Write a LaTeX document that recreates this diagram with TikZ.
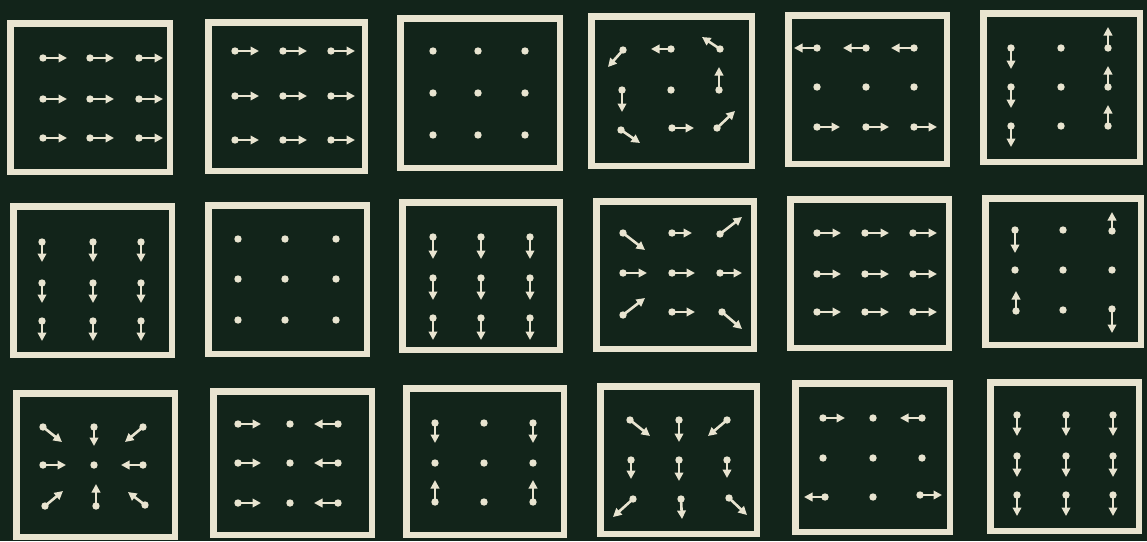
\documentclass[tikz,border=0pt]{standalone}
\usetikzlibrary{arrows.meta}
\definecolor{bgc}{RGB}{18,36,26}
\definecolor{ink}{RGB}{232,228,208}
\tikzset{
  frame/.style={draw=ink, line width=6.5pt},
  shaft/.style={draw=ink, line width=2.6pt, -{Triangle[width=8.5pt,length=8.5pt]}},
}
\newcommand\arr[2]{\fill[ink] #1 circle (3.7); \draw[shaft] #1 -- #2;}
\newcommand\pt[1]{\fill[ink] #1 circle (3.7);}
\newcommand\panel[4]{\draw[frame] ({#1+3.25},{#2+3.25}) rectangle ({#3-3.25},{#4-3.25});}
\begin{document}
\begin{tikzpicture}[x=1pt,y=-1pt]
\fill[bgc] (0,0) rectangle (1147,541);
\useasboundingbox (0,0) rectangle (1147,541);
% ---------- row 1 ----------
\panel{7}{20}{173}{175}
\foreach \y in {58,99,138}{\foreach \x in {43,90,139}{\arr{(\x,\y)}{(\x+24,\y)}}}
\panel{205}{19}{368}{174}
\foreach \y in {51,96,140}{\foreach \x in {235,283,331}{\arr{(\x,\y)}{(\x+24,\y)}}}
\panel{397}{15}{563}{171}
\foreach \y in {51,93,135}{\foreach \x in {433,478,525}{\pt{(\x,\y)}}}
\panel{588}{13}{755}{169}
\arr{(623,50)}{(608,67)}
\arr{(671,49)}{(651,49)}
\arr{(720,49)}{(702,37)}
\arr{(622,90)}{(622,112)}
\pt{(671,90)}
\arr{(719,90)}{(719,67)}
\arr{(621,130)}{(640,143)}
\arr{(672,128)}{(694,128)}
\arr{(717,128)}{(735,111)}
\panel{785}{12}{950}{167}
\foreach \x in {817,866,914}{\arr{(\x,48)}{(\x-23,48)} \pt{(\x,87)} \arr{(\x,127)}{(\x+23,127)}}
\panel{980}{10}{1143}{165}
\foreach \y in {48,87,126}{\arr{(1011,\y)}{(1011,\y+21)} \pt{(1061,\y)} \arr{(1108,\y)}{(1108,\y-21)}}
% ---------- row 2 ----------
\panel{10}{203}{175}{358}
\foreach \y in {242,283,321}{\foreach \x in {42,93,141}{\arr{(\x,\y)}{(\x,\y+20)}}}
\panel{205}{202}{370}{357}
\foreach \y in {239,279,320}{\foreach \x in {238,285,336}{\pt{(\x,\y)}}}
\panel{399}{199}{563}{353}
\foreach \y in {237,278,318}{\foreach \x in {433,481,530}{\arr{(\x,\y)}{(\x,\y+22)}}}
\panel{593}{198}{757}{352}
\arr{(623,233)}{(645,250)}
\arr{(672,233)}{(692,233)}
\arr{(720,234)}{(742,217)}
\arr{(623,273)}{(647,273)}
\arr{(672,273)}{(695,273)}
\arr{(720,273)}{(742,273)}
\arr{(623,315)}{(645,298)}
\arr{(672,312)}{(695,312)}
\arr{(722,312)}{(742,329)}
\panel{787}{196}{952}{351}
\foreach \y in {233,274,312}{\foreach \x in {817,865,913}{\arr{(\x,\y)}{(\x+24,\y)}}}
\panel{982}{195}{1144}{348}
\arr{(1015,230)}{(1015,253)}
\pt{(1063,230)}
\arr{(1112,231)}{(1112,212)}
\pt{(1015,270)} \pt{(1063,270)} \pt{(1112,270)}
\arr{(1016,311)}{(1016,291)}
\pt{(1063,310)}
\arr{(1112,309)}{(1112,333)}
% ---------- row 3 ----------
\panel{13}{390}{178}{540}
\arr{(43,427)}{(62,442)}
\arr{(94,427)}{(94,446)}
\arr{(143,427)}{(125,442)}
\arr{(43,465)}{(66,465)}
\pt{(94,465)}
\arr{(143,465)}{(121,465)}
\arr{(45,506)}{(63,491)}
\arr{(96,506)}{(96,484)}
\arr{(145,505)}{(128,492)}
\panel{210}{388}{375}{538}
\foreach \y in {424,463,503}{\arr{(238,\y)}{(261,\y)} \pt{(290,\y)} \arr{(338,\y)}{(314,\y)}}
\panel{403}{385}{567}{538}
\arr{(435,423)}{(435,443)}
\pt{(484,423)}
\arr{(533,423)}{(533,443)}
\pt{(435,463)} \pt{(484,463)} \pt{(533,463)}
\arr{(435,502)}{(435,480)}
\pt{(484,502)}
\arr{(533,502)}{(533,480)}
\panel{597}{383}{760}{537}
\arr{(630,420)}{(650,436)}
\arr{(679,420)}{(679,442)}
\arr{(727,420)}{(708,436)}
\arr{(631,460)}{(631,479)}
\arr{(679,460)}{(679,481)}
\arr{(727,460)}{(727,478)}
\arr{(633,499)}{(613,517)}
\arr{(681,499)}{(682,519)}
\arr{(729,498)}{(747,515)}
\panel{792}{380}{953}{535}
\arr{(823,418)}{(845,418)}
\pt{(873,418)}
\arr{(922,418)}{(900,418)}
\pt{(823,458)} \pt{(873,458)} \pt{(922,458)}
\arr{(825,497)}{(804,497)}
\pt{(873,497)}
\arr{(920,495)}{(942,495)}
\panel{987}{379}{1142}{534}
\foreach \y in {415,456,495}{\foreach \x in {1017,1066,1113}{\arr{(\x,\y)}{(\x,\y+21)}}}
\end{tikzpicture}
\end{document}
